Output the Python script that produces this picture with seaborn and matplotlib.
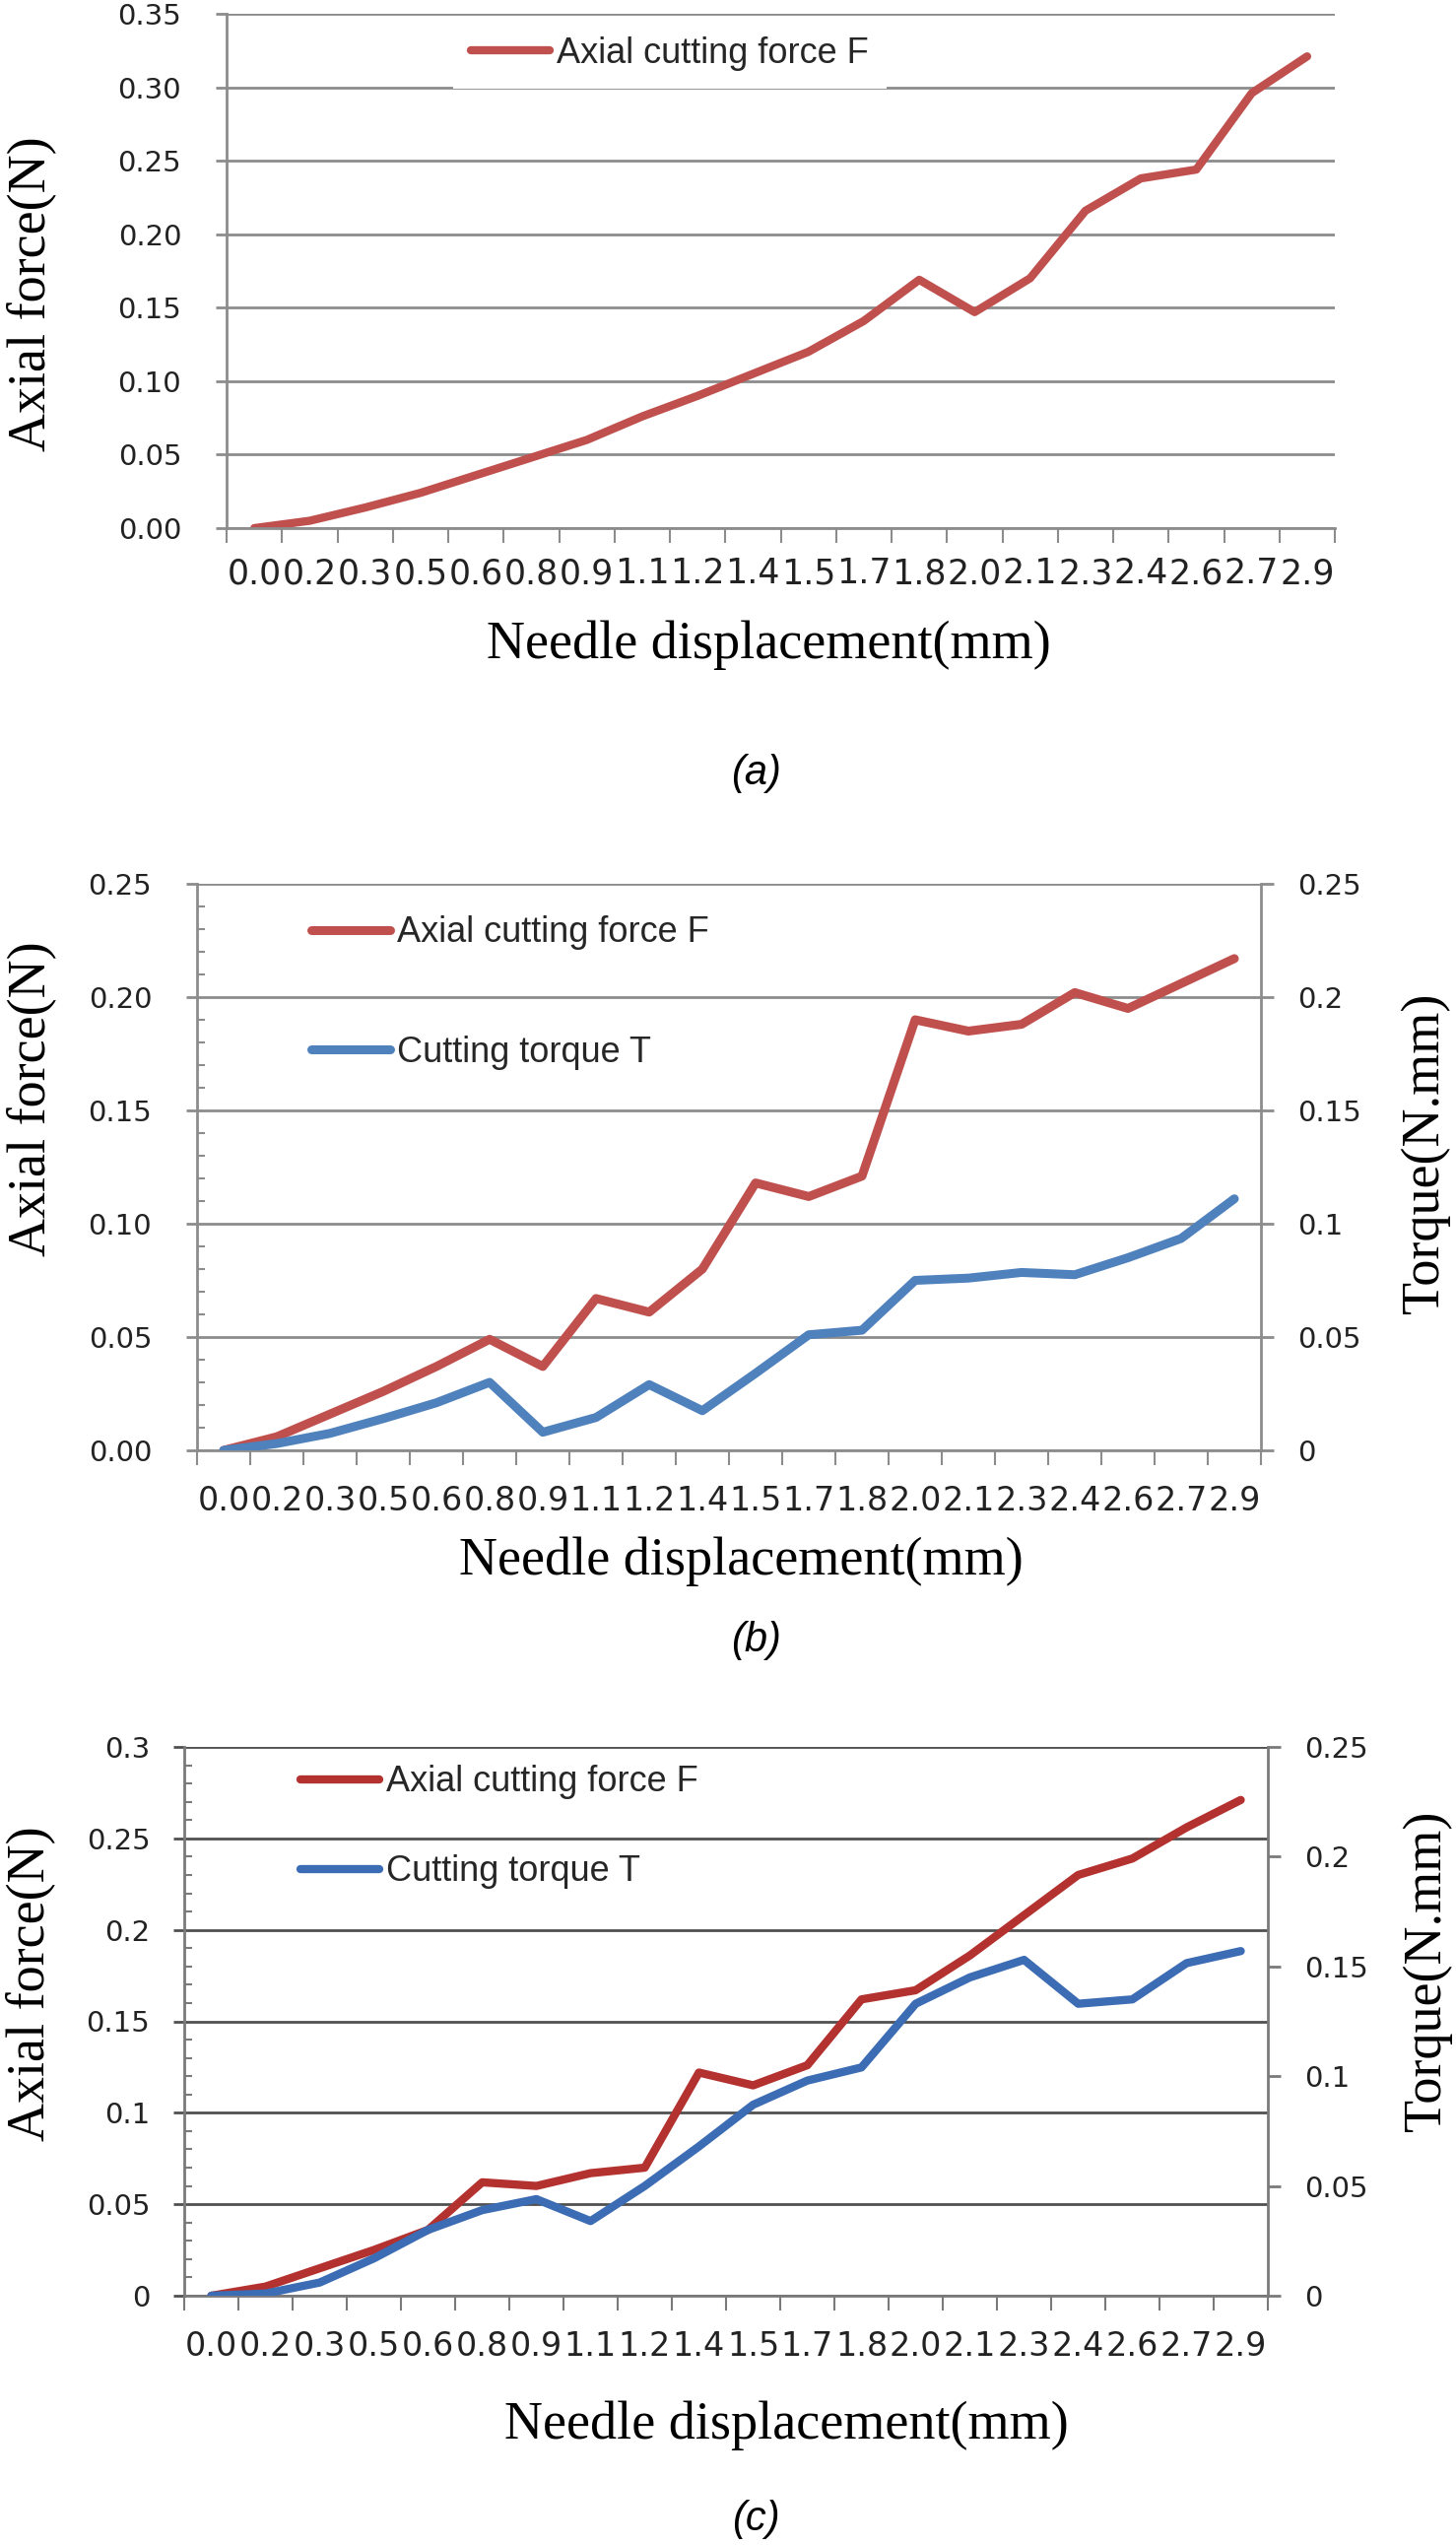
import numpy as np
import matplotlib
matplotlib.use("Agg")
import matplotlib.pyplot as plt
import seaborn as sns
from matplotlib.ticker import FuncFormatter, MultipleLocator, NullFormatter

W, H = 1478, 2583

# === DATA ===
x_labels = ["0.0", "0.2", "0.3", "0.5", "0.6", "0.8", "0.9", "1.1", "1.2", "1.4",
            "1.5", "1.7", "1.8", "2.0", "2.1", "2.3", "2.4", "2.6", "2.7", "2.9"]

force_a = [0.000, 0.005, 0.014, 0.024, 0.036, 0.048, 0.060, 0.076, 0.090, 0.105,
           0.120, 0.141, 0.169, 0.147, 0.170, 0.216, 0.238, 0.244, 0.296, 0.321]

force_b = [0.000, 0.006, 0.016, 0.026, 0.037, 0.049, 0.037, 0.067, 0.061, 0.080,
           0.118, 0.112, 0.121, 0.190, 0.185, 0.188, 0.202, 0.195, 0.206, 0.217]
torque_b = [0.000, 0.003, 0.0075, 0.014, 0.021, 0.030, 0.008, 0.0145, 0.029, 0.0175,
            0.034, 0.051, 0.053, 0.075, 0.076, 0.0785, 0.0775, 0.085, 0.0935, 0.111]

force_c = [0.000, 0.005, 0.015, 0.025, 0.036, 0.062, 0.060, 0.067, 0.070, 0.122,
           0.115, 0.126, 0.162, 0.167, 0.186, 0.208, 0.230, 0.239, 0.256, 0.271]
torque_c = [0.000, 0.001, 0.006, 0.017, 0.030, 0.039, 0.044, 0.034, 0.050, 0.068,
            0.087, 0.098, 0.104, 0.133, 0.145, 0.153, 0.133, 0.135, 0.1515, 0.157]

F_LABEL = "Axial cutting force F"
T_LABEL = "Cutting torque T"

RED = "#C0504D"
BLUE = "#4F81BD"
RED_C = "#B3312E"
BLUE_C = "#3B6CB4"

SERIF = "Liberation Serif"
SANS = "Liberation Sans"

sns.set_theme(style="white")
plt.rcParams["font.family"] = ["DejaVu Sans"]

xpos = np.arange(len(x_labels))


def fx(px):
    return px / W


def fy(py):
    return 1 - py / H


def add_panel(fig, left, right, top, bottom):
    return fig.add_axes([fx(left), fy(bottom), (right - left) / W, (bottom - top) / H])


def fmt2(v, _):
    return f"{v:.2f}"


def fmtg(v, _):
    return f"{v:g}"


def style_left(ax, ymax, grid_c, spine_c, fmt, minor, ytick_pad, xtick_pad, xtick_size):
    n = len(x_labels)
    ax.set_xlim(-0.5, n - 0.5)
    ax.set_ylim(0, ymax)
    ax.set_xticks(np.arange(-0.5, n, 1.0))
    ax.xaxis.set_major_formatter(NullFormatter())
    ax.set_xticks(xpos, labels=x_labels, minor=True)
    ax.set_yticks(np.round(np.arange(0, ymax + 1e-9, 0.05), 2))
    ax.yaxis.set_major_formatter(FuncFormatter(fmt))
    if minor:
        ax.yaxis.set_minor_locator(MultipleLocator(0.01))
    ax.grid(False)
    ax.yaxis.grid(True, which="major", color=grid_c, lw=2)
    ax.tick_params(axis="x", which="major", direction="out", length=11, width=1.5,
                   color=spine_c, bottom=True)
    ax.tick_params(axis="x", which="minor", length=0, pad=xtick_pad,
                   labelsize=xtick_size, labelcolor="#222222", bottom=True)
    ax.tick_params(axis="y", which="major", direction="out", length=8, width=2,
                   color=grid_c, left=True, pad=ytick_pad, labelsize=21,
                   labelcolor="#222222")
    ax.tick_params(axis="y", which="minor", direction="in", length=6, width=1.5,
                   color=spine_c, left=True)
    for side in ["top", "right"]:
        ax.spines[side].set_visible(False)
    for side in ["left", "bottom"]:
        ax.spines[side].set_color(spine_c)
        ax.spines[side].set_linewidth(2)


def style_right(ax2, spine_c):
    ax2.set_ylim(0, 0.25)
    ax2.set_yticks(np.round(np.arange(0, 0.25 + 1e-9, 0.05), 2))
    ax2.yaxis.set_major_formatter(FuncFormatter(fmtg))
    ax2.grid(False)
    ax2.tick_params(axis="y", which="major", direction="out", length=9, width=2,
                    color=spine_c, right=True, pad=18, labelsize=21,
                    labelcolor="#222222")
    for side in ["left", "top", "bottom"]:
        ax2.spines[side].set_visible(False)
    ax2.spines["right"].set_visible(True)
    ax2.spines["right"].set_color(spine_c)
    ax2.spines["right"].set_linewidth(2)


def labels(ax, xl_cx, xl_base, yl_base, yl_cy):
    ax.set_xlabel("Needle displacement(mm)", fontfamily=SERIF, fontsize=39, color="black")
    ax.xaxis.set_label_coords(fx(xl_cx), fy(xl_base), transform=fig.transFigure)
    ax.xaxis.label.set_va("baseline")
    ax.set_ylabel("Axial force(N)", fontfamily=SERIF, fontsize=39, color="black")
    ax.yaxis.set_label_coords(fx(yl_base), fy(yl_cy), transform=fig.transFigure)
    ax.yaxis.label.set_va("baseline")
    ax.yaxis.label.set_ha("center")


def torque_label(ax2, base, cy):
    ax2.set_ylabel("Torque(N.mm)", fontfamily=SERIF, fontsize=39, color="black",
                   rotation=90)
    ax2.yaxis.set_label_coords(fx(base), fy(cy), transform=fig.transFigure)
    ax2.yaxis.label.set_rotation_mode("anchor")
    ax2.yaxis.label.set_va("baseline")
    ax2.yaxis.label.set_ha("center")


fig = plt.figure(figsize=(W / 100, H / 100), dpi=100)
fig.patch.set_facecolor("white")

# === (a) ===
ax_a = add_panel(fig, 230, 1355, 14, 536)
sns.lineplot(x=xpos, y=force_a, ax=ax_a, color=RED, lw=6, label=F_LABEL, legend=False)
style_left(ax_a, 0.35, "#8c8c8c", "#8c8c8c", fmt2, False, 25, 21, 25)
labels(ax_a, 780, 668, 45, 298)
h, l = ax_a.get_legend_handles_labels()
ax_a.legend(h, l, loc="upper left", bbox_to_anchor=(fx(460), fy(19)),
            bbox_transform=fig.transFigure, frameon=True, fancybox=False,
            framealpha=1, facecolor="white", edgecolor="none", borderpad=0.5,
            borderaxespad=0, handlelength=2.2, handletextpad=0.2,
            prop={"family": SANS, "size": 26})

# === (b) ===
ax_b = add_panel(fig, 200, 1280, 897, 1472)
sns.lineplot(x=xpos, y=force_b, ax=ax_b, color=RED, lw=6.5, label=F_LABEL, legend=False)
style_left(ax_b, 0.25, "#8c8c8c", "#8c8c8c", fmt2, True, 25, 25, 24)
ax_b2 = ax_b.twinx()
sns.lineplot(x=xpos, y=torque_b, ax=ax_b2, color=BLUE, lw=6.5, label=T_LABEL, legend=False)
style_right(ax_b2, "#8c8c8c")
ax_b.set_xlim(-0.5, len(x_labels) - 0.5)
labels(ax_b, 752, 1598, 45, 1115)
torque_label(ax_b2, 1460, 1170)
h1, l1 = ax_b.get_legend_handles_labels()
h2, l2 = ax_b2.get_legend_handles_labels()
ax_b2.legend(h1 + h2, l1 + l2, loc="upper left", bbox_to_anchor=(fx(302), fy(915)),
             bbox_transform=fig.transFigure, frameon=False, borderpad=0.4,
             borderaxespad=0, handlelength=2.2, handletextpad=0.2, labelspacing=2.4,
             prop={"family": SANS, "size": 26})

# === (c) ===
ax_c = add_panel(fig, 187, 1287, 1773, 2330)
sns.lineplot(x=xpos, y=force_c, ax=ax_c, color=RED_C, lw=6, label=F_LABEL, legend=False)
style_left(ax_c, 0.30, "#505050", "#7a7a7a", fmtg, True, 17, 25, 24)
ax_c2 = ax_c.twinx()
sns.lineplot(x=xpos, y=torque_c, ax=ax_c2, color=BLUE_C, lw=6, label=T_LABEL, legend=False)
style_right(ax_c2, "#7a7a7a")
ax_c.set_xlim(-0.5, len(x_labels) - 0.5)
labels(ax_c, 798, 2475, 44, 2013)
torque_label(ax_c2, 1462, 2000)
h1, l1 = ax_c.get_legend_handles_labels()
h2, l2 = ax_c2.get_legend_handles_labels()
ax_c2.legend(h1 + h2, l1 + l2, loc="upper left", bbox_to_anchor=(fx(291), fy(1777)),
             bbox_transform=fig.transFigure, frameon=False, borderpad=0.4,
             borderaxespad=0, handlelength=2.2, handletextpad=0.2, labelspacing=1.55,
             prop={"family": SANS, "size": 26})

# === подписи панелей ===
for tag, cy in [("(a)", 785), ("(b)", 1665), ("(c)", 2557)]:
    fig.text(fx(767), fy(cy), tag, ha="center", va="center", fontsize=30,
             style="italic", family=SANS, color="black")

fig.savefig("out.png", dpi=100, facecolor="white")
